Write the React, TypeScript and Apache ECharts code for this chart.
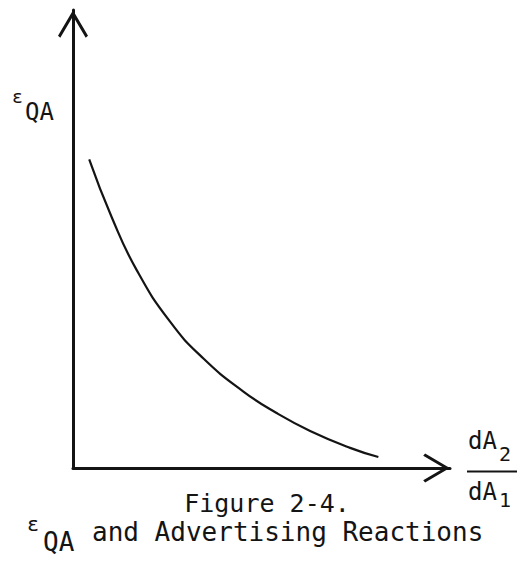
import React, { useEffect, useRef } from "react";
import * as echarts from "echarts";

// Curve (x = dA2/dA1 ratio, y = ε_QA), arbitrary 0–100 units
const curveX = [4.3, 10.3, 16.9, 25.7, 34.6, 45.2, 54.0, 62.9, 73.5, 81.0];
const curveY = [67.4, 54.7, 43.2, 32.0, 23.9, 16.7, 12.0, 8.1, 4.4, 2.4];

const captionLine1 = "Figure 2-4.";
const captionLine2 = "and Advertising Reactions";
const yLabelSym = "ε";
const yLabelSub = "QA";
const xLabelTop = "dA";
const xLabelTopSub = "2";
const xLabelBottom = "dA";
const xLabelBottomSub = "1";

const INK = "#141414";
const FONT = '"DejaVu Sans Mono", "Liberation Mono", monospace';
const CHEVRON = "path://M15,0 L30,25.5 L27.7,27.5 L15,5.9 L2.3,27.5 L0,25.5 Z";

export default function App() {
  const ref = useRef<HTMLDivElement>(null);

  useEffect(() => {
    if (!ref.current) return;
    const chart = echarts.init(ref.current, undefined, { renderer: "svg" });
    const data = curveX.map((x, i) => [x, curveY[i]]);
    const txt = (x: number, y: number, text: string, size: number, align = "left") => ({
      type: "text",
      x,
      y,
      silent: true,
      style: {
        text,
        fill: INK,
        font: `${size}px ${FONT}`,
        textAlign: align,
        textVerticalAlign: "middle",
      },
    });
    chart.setOption({
      animation: false,
      backgroundColor: "#ffffff",
      grid: { left: 73, right: 67, top: 10, bottom: 93, containLabel: false, outerBoundsMode: "none" },
      xAxis: {
        type: "value",
        min: 0,
        max: 100,
        axisLine: {
          show: true,
          onZero: false,
          lineStyle: { color: INK, width: 3 },
          symbol: ["none", CHEVRON],
          symbolSize: [29, 27],
          symbolOffset: [0, -13.5],
        },
        axisTick: { show: false },
        axisLabel: { show: false },
        splitLine: { show: false },
      },
      yAxis: {
        type: "value",
        min: 0,
        max: 100,
        axisLine: {
          show: true,
          onZero: false,
          lineStyle: { color: INK, width: 3 },
          symbol: ["none", CHEVRON],
          symbolSize: [30, 28],
          symbolOffset: [0, -14],
        },
        axisTick: { show: false },
        axisLabel: { show: false },
        splitLine: { show: false },
      },
      series: [
        {
          type: "line",
          data,
          smooth: 0.5,
          showSymbol: false,
          clip: false,
          lineStyle: { color: INK, width: 2.2 },
        },
      ],
      graphic: [
        txt(12, 96.5, yLabelSym, 18),
        txt(25, 112, yLabelSub, 24),
        txt(468, 441, xLabelTop, 24),
        txt(499, 454, xLabelTopSub, 20),
        {
          type: "line",
          silent: true,
          shape: { x1: 467, y1: 471.5, x2: 517, y2: 471.5 },
          style: { stroke: INK, lineWidth: 2 },
        },
        txt(468, 492, xLabelBottom, 24),
        txt(499, 500, xLabelBottomSub, 20),
        txt(267, 503, captionLine1, 25, "center"),
        txt(27, 524, yLabelSym, 20),
        txt(43, 542, yLabelSub, 26),
        txt(92, 532, captionLine2, 26),
      ],
    });
    return () => chart.dispose();
  }, []);

  return (
    <div
      ref={ref}
      style={{ position: "absolute", left: 0, top: 0, width: 517, height: 561, background: "#fff" }}
    />
  );
}
